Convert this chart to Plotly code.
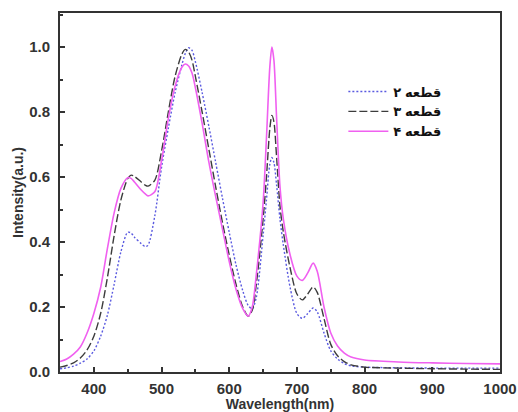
import plotly.graph_objs as go

# wavelength grid (nm) shared by the three spectra
wavelength = [
    350, 360, 370, 380, 390, 400, 410, 420, 430, 440, 450, 455, 460, 470, 476,
    480, 490, 500, 510, 520, 530, 535, 540, 545, 550, 560, 570, 580, 590, 600,
    610, 620, 628, 634, 640, 650, 655, 660, 663, 666, 670, 675, 680, 690, 700,
    708, 716, 724, 730, 740, 750, 760, 770, 780, 800, 850, 900, 950, 1000,
]

piece_2 = [
    0.010, 0.013, 0.018, 0.027, 0.040, 0.065, 0.110, 0.175, 0.270, 0.370, 0.430, 0.428, 0.415, 0.395, 0.386,
    0.390, 0.480, 0.630, 0.750, 0.860, 0.945, 0.980, 0.998, 0.990, 0.955, 0.860, 0.755, 0.645, 0.535, 0.430,
    0.330, 0.250, 0.205, 0.195, 0.230, 0.420, 0.530, 0.640, 0.660, 0.645, 0.575, 0.470, 0.390, 0.260, 0.180,
    0.165, 0.180, 0.197, 0.185, 0.120, 0.065, 0.040, 0.026, 0.019, 0.015, 0.013, 0.012, 0.012, 0.012,
]

piece_3 = [
    0.015, 0.020, 0.028, 0.043, 0.068, 0.110, 0.180, 0.290, 0.420, 0.530, 0.595, 0.606, 0.602, 0.585, 0.575,
    0.572, 0.590, 0.680, 0.800, 0.910, 0.978, 0.993, 0.985, 0.960, 0.910, 0.800, 0.685, 0.570, 0.460, 0.360,
    0.270, 0.200, 0.172, 0.190, 0.270, 0.470, 0.600, 0.750, 0.790, 0.770, 0.660, 0.510, 0.430, 0.320, 0.240,
    0.222, 0.240, 0.262, 0.245, 0.165, 0.085, 0.050, 0.032, 0.022, 0.015, 0.012, 0.010, 0.009, 0.008,
]

piece_4 = [
    0.032, 0.040, 0.055, 0.077, 0.120, 0.180, 0.260, 0.380, 0.490, 0.565, 0.598, 0.596, 0.585, 0.560, 0.548,
    0.542, 0.555, 0.650, 0.780, 0.880, 0.938, 0.948, 0.942, 0.920, 0.875, 0.765, 0.645, 0.540, 0.440, 0.340,
    0.255, 0.195, 0.172, 0.200, 0.300, 0.520, 0.720, 0.940, 1.000, 0.960, 0.780, 0.570, 0.470, 0.360, 0.295,
    0.282, 0.305, 0.335, 0.310, 0.200, 0.120, 0.080, 0.058, 0.046, 0.037, 0.031, 0.028, 0.026, 0.025,
]

names = ["قطعه ۲", "قطعه ۳", "قطعه ۴"]

font_family = "Arial, Liberation Sans, DejaVu Sans"

traces = [
    go.Scatter(
        x=wavelength, y=piece_2, mode="lines", name=names[0],
        line=dict(color="#5a5ae0", width=1.4, dash="2px,2px", shape="spline", smoothing=0.8),
    ),
    go.Scatter(
        x=wavelength, y=piece_3, mode="lines", name=names[1],
        line=dict(color="#3c3c3c", width=1.4, dash="8px,3px", shape="spline", smoothing=0.8),
    ),
    go.Scatter(
        x=wavelength, y=piece_4, mode="lines", name=names[2],
        line=dict(color="#f060f0", width=1.6, shape="spline", smoothing=0.8),
    ),
]

axis_common = dict(
    showline=True,
    linecolor="#333333",
    linewidth=2,
    mirror=True,
    ticks="inside",
    ticklen=5,
    tickwidth=1.5,
    tickcolor="#333333",
    showgrid=False,
    zeroline=False,
    automargin=False,
    tickfont=dict(family=font_family, size=15, color="#333333", weight="bold"),
)

layout = go.Layout(
    width=518,
    height=412,
    paper_bgcolor="white",
    plot_bgcolor="white",
    margin=dict(l=60, r=18, t=13, b=40),
    showlegend=True,
    legend=dict(
        x=0.644,
        y=0.823,
        xanchor="left",
        yanchor="top",
        bgcolor="rgba(0,0,0,0)",
        font=dict(family=font_family, size=13, color="#111111", weight="bold"),
        tracegroupgap=0,
        itemwidth=40,
    ),
    xaxis=dict(
        **axis_common,
        range=[350, 1000],
        tickvals=[400, 500, 600, 700, 800, 900, 1000],
        ticklabelstandoff=2,
        minor=dict(ticks="inside", ticklen=3, tickcolor="#333333", dtick=50, tick0=350),
        title=dict(
            text="Wavelength(nm)",
            standoff=5,
            font=dict(family=font_family, size=14, color="#333333", weight="bold"),
        ),
    ),
    yaxis=dict(
        **axis_common,
        range=[0, 1.105],
        tickvals=[0, 0.2, 0.4, 0.6, 0.8, 1.0],
        tickformat=".1f",
        ticklabelstandoff=5,
        minor=dict(ticks="inside", ticklen=3, tickcolor="#333333", dtick=0.1, tick0=0),
        title=dict(
            text="Intensity(a.u.)",
            standoff=2,
            font=dict(family=font_family, size=14, color="#333333", weight="bold"),
        ),
    ),
)

fig = go.Figure(data=traces, layout=layout)
# drop the default page margin so the figure sits at the window's corner
fig.write_html(
    "out.html",
    config={"displayModeBar": False},
    post_script="document.body.style.margin='0px';",
)
